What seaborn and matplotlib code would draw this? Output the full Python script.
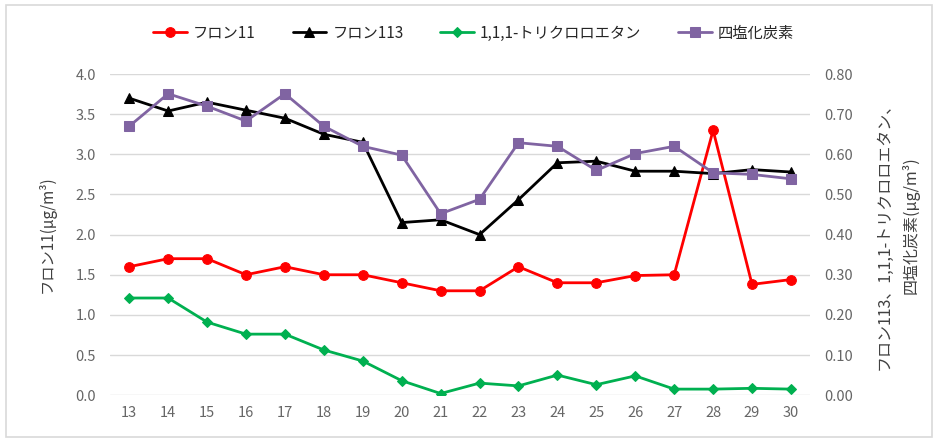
import pandas as pd
import matplotlib
matplotlib.use("Agg")
import matplotlib.pyplot as plt
import seaborn as sns
from matplotlib.patches import Rectangle

# -------------------------------
# DATA
# -------------------------------
years = [13, 14, 15, 16, 17, 18, 19, 20, 21, 22, 23, 24, 25, 26, 27, 28, 29, 30]
freon11 = [1.6, 1.7, 1.7, 1.5, 1.6, 1.5, 1.5, 1.4, 1.3, 1.3, 1.6, 1.4, 1.4, 1.49, 1.5, 3.3, 1.38, 1.44]
freon113 = [0.74, 0.708, 0.73, 0.71, 0.69, 0.65, 0.63, 0.43, 0.437, 0.40, 0.487, 0.579,
            0.583, 0.558, 0.558, 0.552, 0.562, 0.556]
tca = [0.242, 0.242, 0.182, 0.152, 0.152, 0.1125, 0.085, 0.036, 0.004, 0.030, 0.023, 0.050,
       0.026, 0.048, 0.015, 0.015, 0.017, 0.015]
ccl4 = [0.67, 0.751, 0.72, 0.683, 0.751, 0.67, 0.62, 0.598, 0.452, 0.488, 0.629, 0.62,
        0.56, 0.602, 0.62, 0.554, 0.55, 0.539]

labels = ["フロン11", "フロン113", "1,1,1-トリクロロエタン", "四塩化炭素"]
colors = ["#FF0000", "#000000", "#00B050", "#8064A2"]
markers = ["o", "^", "D", "s"]
msizes = [7, 7, 5.5, 7]

df = pd.DataFrame({"year": years, labels[0]: freon11, labels[1]: freon113,
                   labels[2]: tca, labels[3]: ccl4})

sns.set_theme(style="white")
plt.rcParams["font.family"] = ["Noto Sans CJK JP", "DejaVu Sans"]

fig = plt.figure(figsize=(9.38, 4.41), dpi=100)
ax = fig.add_axes([0.117, 0.104, 0.747, 0.728])
ax2 = ax.twinx()

# frame around the whole chart
fig.patches.append(Rectangle((0.006, 0.01), 0.988, 0.978, transform=fig.transFigure,
                             fill=False, edgecolor="#D9D9D9", linewidth=1.2))

# -------------------------------
# LINES
# -------------------------------
handles = []
for i, name in enumerate(labels):
    target = ax if i == 0 else ax2
    sns.lineplot(data=df, x="year", y=name, ax=target, color=colors[i],
                 marker=markers[i], markersize=msizes[i], markeredgecolor=colors[i],
                 linewidth=2, legend=False, zorder=3 + i)
    handles.append(target.lines[-1])

ax.set_xlim(12.5, 30.5)
ax.set_ylim(0, 4.0)
ax2.set_ylim(0, 0.8)
ax.set_xticks(years)
ax.set_yticks([0, 0.5, 1.0, 1.5, 2.0, 2.5, 3.0, 3.5, 4.0])
ax.set_yticklabels([f"{v:.1f}" for v in ax.get_yticks()])
ax2.set_yticks([0, 0.1, 0.2, 0.3, 0.4, 0.5, 0.6, 0.7, 0.8])
ax2.set_yticklabels([f"{v:.2f}" for v in ax2.get_yticks()])

ax.grid(axis="y", color="#D9D9D9", linewidth=1)
ax.grid(axis="x", visible=False)
ax2.grid(False)
for a in (ax, ax2):
    for s in a.spines.values():
        s.set_visible(False)
    a.tick_params(length=0, labelsize=10.5, colors="#666666")
ax.tick_params(axis="x", pad=8)
ax.tick_params(axis="y", pad=10)
ax2.tick_params(axis="y", pad=10)

ax.set_xlabel("")
ax2.set_ylabel("")
ax.set_ylabel("フロン11(μg/m³)", fontsize=11, color="#404040", labelpad=14)

# right axis label, two centred lines
fig.text(0.943, 0.472, "フロン113、1,1,1-トリクロロエタン、", rotation=90,
         ha="center", va="center", fontsize=11.5, color="#404040")
fig.text(0.971, 0.49, "四塩化炭素(μg/m³)", rotation=90,
         ha="center", va="center", fontsize=11.5, color="#404040")

fig.legend(handles, labels, loc="center", bbox_to_anchor=(0.505, 0.925), ncol=4,
           frameon=False, fontsize=11, handlelength=2.2, columnspacing=2.4,
           handletextpad=0.4)

plt.savefig("out.png", dpi=100)
plt.close()
